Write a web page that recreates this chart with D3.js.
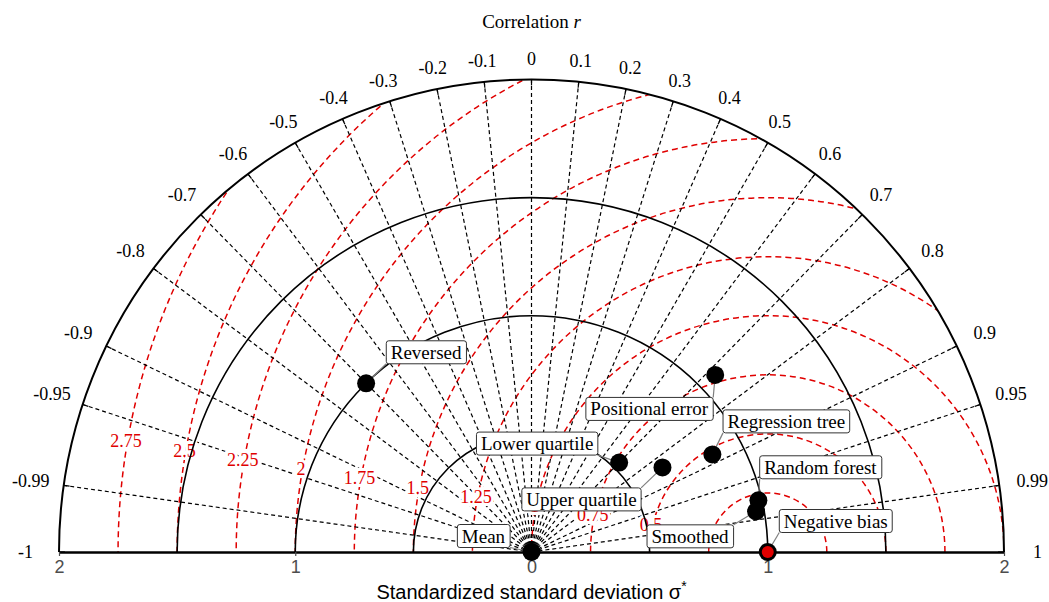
<!DOCTYPE html>
<html>
<head>
<meta charset="utf-8">
<script src="https://cdn.jsdelivr.net/npm/d3@7"></script>
<style>
  body { margin: 0; background: #fff; }
</style>
</head>
<body>
<div id="chart-area"></div>
<script>
// taylor diagram values
var corrTicks = [-1, -0.99, -0.95, -0.9, -0.8, -0.7, -0.6, -0.5, -0.4, -0.3, -0.2, -0.1, 0,
                 0.1, 0.2, 0.3, 0.4, 0.5, 0.6, 0.7, 0.8, 0.9, 0.95, 0.99, 1];
var sdArcs = [0.5, 1, 1.5, 2];
var sdTicks = [-2, -1, 0, 1, 2];
var rmsdLevels = [0.25, 0.5, 0.75, 1, 1.25, 1.5, 1.75, 2, 2.25, 2.5, 2.75];
var models = ["Mean", "Reversed", "Positional error", "Regression tree", "Lower quartile",
              "Upper quartile", "Random forest", "Smoothed", "Negative bias"];
var modelSd = [0, 1.0, 1.08, 0.87, 0.53, 0.66, 0.985, 0.966, 1.0];
var modelCor = [1, -0.70, 0.72, 0.88, 0.70, 0.84, 0.975, 0.984, 1];
var refSd = 1, refCor = 1;

// label placement (px offsets from the point)
var labelDx = [-48, 60, -66, 74, -82, -81, 62, -66, 68];
var labelDy = [-16, -31, 34, -33, -19, 32, -33, 25, -31];

var width = 1049;
var height = 602;
var cx = 531.5, cy = 552;
var serif = "'Liberation Serif', 'DejaVu Serif', serif";
var sans = "'Liberation Sans', Arial, sans-serif";

var svg = d3.select("#chart-area").append("svg")
    .attr("width", width)
    .attr("height", height);

var rad = d3.scaleLinear().domain([0, 2]).range([0, 472.5]);
var x = d3.scaleLinear().domain([-2, 2]).range([cx - rad(2), cx + rad(2)]);

function polar(sd, r) {
    var a = Math.acos(Math.max(-1, Math.min(1, r)));
    return [cx + rad(sd) * Math.cos(a), cy - rad(sd) * Math.sin(a)];
}
function halfArc(x0, y0, rr) {
    var p = d3.path();
    p.moveTo(x0 + rr, y0);
    p.arc(x0, y0, rr, 0, -Math.PI, true);
    return p.toString();
}

// clip to the upper half disc
svg.append("clipPath").attr("id", "half")
  .append("path")
    .attr("d", halfArc(cx, cy, rad(2)) + "Z");

var refX = polar(refSd, refCor)[0];

// rmsd arcs
svg.append("g").attr("clip-path", "url(#half)")
  .selectAll("path").data(rmsdLevels).enter()
  .append("path")
    .attr("d", (d) => { return halfArc(refX, cy, rad(d)); })
    .attr("fill", "none")
    .attr("stroke", "#e00000")
    .attr("stroke-width", 1.5)
    .attr("stroke-dasharray", "6,4");

// correlation rays
svg.append("g").selectAll("line")
    .data(corrTicks.filter((d) => { return Math.abs(d) < 1; }))
    .enter().append("line")
    .attr("x1", cx).attr("y1", cy)
    .attr("x2", (d) => { return polar(2, d)[0]; })
    .attr("y2", (d) => { return polar(2, d)[1]; })
    .attr("stroke", "#000")
    .attr("stroke-width", 1.2)
    .attr("stroke-dasharray", "4,3");

// rmsd labels
svg.append("g").selectAll("text")
    .data(rmsdLevels).enter()
  .append("text")
    .attr("x", (d) => { return refX - rad(d) * Math.cos(9 * Math.PI / 180); })
    .attr("y", (d) => { return cy - rad(d) * Math.sin(9 * Math.PI / 180) - 3; })
    .attr("text-anchor", "middle")
    .attr("font-family", serif)
    .attr("font-size", "18px")
    .attr("fill", "#e00000")
    .attr("stroke", "#fff")
    .attr("stroke-width", 6)
    .attr("paint-order", "stroke")
    .text((d) => { return d; });

// sd arcs
svg.append("g").selectAll("path")
    .data(sdArcs).enter()
  .append("path")
    .attr("d", (d) => { return halfArc(cx, cy, rad(d)); })
    .attr("fill", "none")
    .attr("stroke", "#000")
    .attr("stroke-width", (d) => { return d == 2 ? 2 : 1.6; });

// ticks on the outer arc
svg.append("g").selectAll("line")
    .data(corrTicks).enter()
  .append("line")
    .attr("x1", (d) => { return polar(1.975, d)[0]; })
    .attr("y1", (d) => { return polar(1.975, d)[1]; })
    .attr("x2", (d) => { return polar(2, d)[0]; })
    .attr("y2", (d) => { return polar(2, d)[1]; })
    .attr("stroke", "#000")
    .attr("stroke-width", 1.2);

// correlation labels
svg.append("g").selectAll("text")
    .data(corrTicks).enter()
  .append("text")
    .attr("x", (d) => { return cx + (493 + 13 * d * d) * d; })
    .attr("y", (d) => { return cy - (493 + 13 * d * d) * Math.sqrt(1 - d * d); })
    .attr("font-family", serif)
    .attr("font-size", "18px")
    .attr("text-anchor", "middle")
    .attr("dominant-baseline", "central")
    .text((d) => { return d; });

var title = svg.append("text")
    .attr("x", cx)
    .attr("y", 28)
    .attr("text-anchor", "middle")
    .attr("font-family", serif)
    .attr("font-size", "19px")
    .text("Correlation ");
title.append("tspan").attr("font-style", "italic").text("r");

// x axis
var xAxisGroup = svg.append("g")
    .attr("transform", "translate(0, " + cy + ")")
    .call(d3.axisBottom(x).tickValues(sdTicks).tickSize(4).tickSizeOuter(0)
        .tickFormat((d) => { return Math.abs(d); }));
xAxisGroup.select(".domain").attr("stroke", "#000").attr("stroke-width", 2.5);
xAxisGroup.selectAll(".tick line").attr("stroke", "#4d4d4d").attr("stroke-width", 1.2);
xAxisGroup.selectAll(".tick text")
    .attr("font-family", sans)
    .attr("font-size", "18px")
    .attr("fill", "#4d4d4d")
    .attr("dy", "0.78em");

var labelX = svg.append("text")
    .attr("x", cx)
    .attr("y", 599)
    .attr("text-anchor", "middle")
    .attr("font-family", sans)
    .attr("font-size", "20px")
    .text("Standardized standard deviation \u03C3");
labelX.append("tspan").attr("dy", "-8").attr("font-size", "14px").text("*");

// model points
var pts = models.map((m, i) => {
    var p = polar(modelSd[i], modelCor[i]);
    return {name: m, px: p[0], py: p[1], lx: p[0] + labelDx[i], ly: p[1] + labelDy[i]};
});

var leaders = svg.append("g");
var dots = svg.append("g");
var boxes = svg.append("g");

dots.selectAll("circle").data(pts).enter()
  .append("circle")
    .attr("cx", (d) => { return d.px; })
    .attr("cy", (d) => { return d.py; })
    .attr("r", 9)
    .attr("fill", "#000");

var ref = polar(refSd, refCor);
dots.append("circle")
    .attr("cx", ref[0]).attr("cy", ref[1])
    .attr("r", 6)
    .attr("fill", "#e00000");

var lab = boxes.selectAll("g").data(pts).enter().append("g");
lab.append("rect");
lab.append("text")
    .attr("x", (d) => { return d.lx; })
    .attr("y", (d) => { return d.ly; })
    .attr("text-anchor", "middle")
    .attr("dominant-baseline", "central")
    .attr("font-family", serif)
    .attr("font-size", "19px")
    .text((d) => { return d.name; });

lab.each(function(d) {
    var bb = d3.select(this).select("text").node().getBBox();
    var x0 = bb.x - 4.5, x1 = bb.x + bb.width + 4.5;
    var y0 = d.ly - 11.5, y1 = d.ly + 11.5;
    d3.select(this).select("rect")
        .attr("x", x0).attr("y", y0)
        .attr("width", x1 - x0).attr("height", y1 - y0)
        .attr("rx", 2.5)
        .attr("fill", "#fff")
        .attr("stroke", "#333")
        .attr("stroke-width", 1);
    leaders.append("line")
        .attr("x1", d.px).attr("y1", d.py)
        .attr("x2", Math.max(x0, Math.min(x1, d.px)))
        .attr("y2", Math.max(y0, Math.min(y1, d.py)))
        .attr("stroke", "#7f7f7f")
        .attr("stroke-width", 1.2);
});
</script>
</body>
</html>
